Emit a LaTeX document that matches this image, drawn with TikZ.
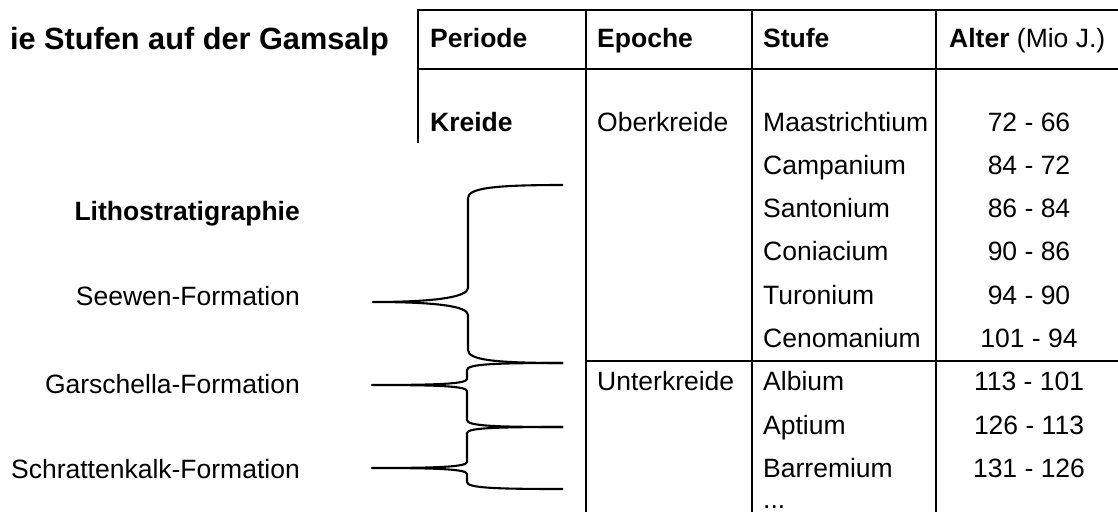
\documentclass[tikz,border=0pt]{standalone}
\usepackage{fontspec}
\setmainfont{Liberation Sans}
\begin{document}
\begin{tikzpicture}[x=1pt,y=-1pt,
  tbl/.style={line width=2.2pt, line join=miter},
  br/.style={line width=2.1pt, line join=round, line cap=butt},
  txt/.style={inner sep=0pt, font=\fontsize{26.5}{30}\selectfont},
  lft/.style={txt, anchor=base west},
  rgt/.style={txt, anchor=base east},
  ctr/.style={txt, anchor=base}]
\useasboundingbox (0,0) rectangle (1118,511);

% title
\node[txt, anchor=base east, font=\fontsize{30.7}{34}\selectfont\bfseries] (title) at (389,49) {ie Stufen auf der Gamsalp};

% table grid
\draw[tbl] (418,143) -- (418,10) -- (1122,10);
\draw[tbl] (418,69) -- (1122,69);
\draw[tbl] (586,10) -- (586,515);
\draw[tbl] (752,10) -- (752,515);
\draw[tbl] (936,10) -- (936,515);
\draw[tbl] (586,361) -- (1122,361);

% header
\node[lft, font=\fontsize{26.5}{30}\selectfont\bfseries] (hper) at (430,48) {Periode};
\node[lft, font=\fontsize{26.5}{30}\selectfont\bfseries] (hepo) at (597,48) {Epoche};
\node[lft, font=\fontsize{26.5}{30}\selectfont\bfseries] (hstu) at (763,48) {Stufe};
\node[lft] (halt) at (949,48) {\textbf{Alter} (Mio J.)};

% periods / epochs
\node[lft, font=\fontsize{26.5}{30}\selectfont\bfseries] (kreide) at (430,131) {Kreide};
\node[lft] (ober) at (597,131) {Oberkreide};
\node[lft] (unter) at (597,390.8) {Unterkreide};

% stages
\node[lft] (s1) at (763,131) {Maastrichtium};
\node[lft] (s2) at (763,174.3) {Campanium};
\node[lft] (s3) at (763,217.6) {Santonium};
\node[lft] (s4) at (763,260.9) {Coniacium};
\node[lft] (s5) at (763,304.2) {Turonium};
\node[lft] (s6) at (763,347.5) {Cenomanium};
\node[lft] (s7) at (763,390.8) {Albium};
\node[lft] (s8) at (763,434.1) {Aptium};
\node[lft] (s9) at (763,477.4) {Barremium};
\node[lft] (s10) at (763,508.5) {...};

% ages
\node[ctr] (a1) at (1029,131) {72 - 66};
\node[ctr] (a2) at (1029,174.3) {84 - 72};
\node[ctr] (a3) at (1029,217.6) {86 - 84};
\node[ctr] (a4) at (1029,260.9) {90 - 86};
\node[ctr] (a5) at (1029,304.2) {94 - 90};
\node[ctr] (a6) at (1029,347.5) {101 - 94};
\node[ctr] (a7) at (1029,390.8) {113 - 101};
\node[ctr] (a8) at (1029,434.1) {126 - 113};
\node[ctr] (a9) at (1029,477.4) {131 - 126};

% lithostratigraphy
\node[rgt, font=\fontsize{26.5}{30}\selectfont\bfseries] (litho) at (300,220) {Lithostratigraphie};
\node[rgt] (seewen) at (300,305) {Seewen-Formation};
\node[rgt] (garsch) at (300,393) {Garschella-Formation};
\node[rgt] (schratt) at (300,478) {Schrattenkalk-Formation};

% brace coordinates
\coordinate (b1t) at (563,185);
\coordinate (b1m) at (373,302);
\coordinate (b1b) at (563,363);
\coordinate (b2t) at (563,363);
\coordinate (b2m) at (372,385);
\coordinate (b2b) at (563,427);
\coordinate (b3t) at (563,427);
\coordinate (b3m) at (372,468);
\coordinate (b3b) at (563,489);

% braces
\draw[br] (b1t) .. controls (495,185) and (468,188) .. (468,198)
  -- (468,288) .. controls (468,297) and (435,302) .. (b1m)
  .. controls (435,302) and (468,306) .. (468,315)
  -- (468,350) .. controls (468,360) and (495,363) .. (b1b);
\draw[br] (b2t) .. controls (495,363) and (467,364) .. (467,370)
  -- (467,379) .. controls (467,384) and (435,385) .. (b2m)
  .. controls (435,385) and (467,386) .. (467,391)
  -- (467,420) .. controls (467,426) and (495,427) .. (b2b);
\draw[br] (b3t) .. controls (495,427) and (467,428) .. (467,433)
  -- (467,462) .. controls (467,467) and (435,468) .. (b3m)
  .. controls (435,468) and (467,469) .. (467,474)
  -- (467,482) .. controls (467,488) and (495,489) .. (b3b);
\end{tikzpicture}
\end{document}
